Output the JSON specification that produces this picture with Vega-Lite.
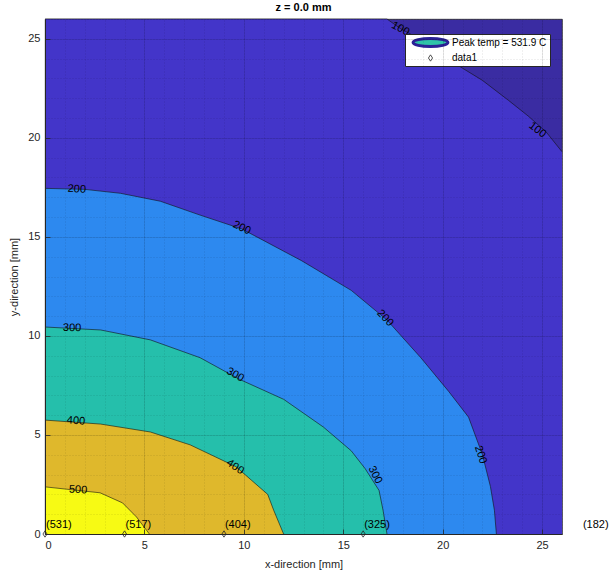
{
  "$schema": "https://vega.github.io/schema/vega-lite/v6.json",
  "width": 517,
  "height": 515,
  "autosize": {"type": "none"},
  "padding": {"left": 45, "top": 19, "right": 49, "bottom": 40},
  "title": {"text": "z = 0.0 mm", "fontSize": 11, "fontWeight": "bold", "font": "Liberation Sans", "color": "#000000", "offset": 5},
  "config": {
    "view": {"fill": "#3a2ca2", "stroke": "#262626", "strokeWidth": 0.8},
    "axis": {"labelFont": "Liberation Sans", "titleFont": "Liberation Sans", "labelFontSize": 11, "titleFontSize": 11, "titleFontWeight": "normal", "labelColor": "#262626", "titleColor": "#262626", "domainColor": "#262626", "tickColor": "#262626"}
  },
  "datasets": {
    "contours": [
      {"level": 100, "x": 0, "y": 26}, {"level": 100, "x": 17.2, "y": 26}, {"level": 100, "x": 17.9, "y": 25.5}, {"level": 100, "x": 19.0, "y": 24.9}, {"level": 100, "x": 20.7, "y": 23.7}, {"level": 100, "x": 22.0, "y": 22.9}, {"level": 100, "x": 23.3, "y": 21.9}, {"level": 100, "x": 24.3, "y": 21.1}, {"level": 100, "x": 25.2, "y": 20.3}, {"level": 100, "x": 26, "y": 19.3},
      {"level": 200, "x": 0, "y": 17.45}, {"level": 200, "x": 2, "y": 17.4}, {"level": 200, "x": 3.8, "y": 17.2}, {"level": 200, "x": 5.8, "y": 16.8}, {"level": 200, "x": 7.8, "y": 16.1}, {"level": 200, "x": 9.9, "y": 15.4}, {"level": 200, "x": 12.9, "y": 13.8}, {"level": 200, "x": 15.4, "y": 12.3}, {"level": 200, "x": 17.2, "y": 10.8}, {"level": 200, "x": 18.9, "y": 8.9}, {"level": 200, "x": 20.3, "y": 7.2}, {"level": 200, "x": 21.3, "y": 5.9}, {"level": 200, "x": 22.0, "y": 4.0}, {"level": 200, "x": 22.4, "y": 2.4}, {"level": 200, "x": 22.6, "y": 1.2}, {"level": 200, "x": 22.7, "y": 0},
      {"level": 300, "x": 0, "y": 10.45}, {"level": 300, "x": 2.8, "y": 10.3}, {"level": 300, "x": 5.3, "y": 9.8}, {"level": 300, "x": 7.8, "y": 8.9}, {"level": 300, "x": 9.8, "y": 7.8}, {"level": 300, "x": 12.0, "y": 6.8}, {"level": 300, "x": 14.0, "y": 5.4}, {"level": 300, "x": 15.4, "y": 4.2}, {"level": 300, "x": 16.1, "y": 3.3}, {"level": 300, "x": 16.8, "y": 2.2}, {"level": 300, "x": 17.0, "y": 1.2}, {"level": 300, "x": 17.2, "y": 0},
      {"level": 400, "x": 0, "y": 5.75}, {"level": 400, "x": 2.8, "y": 5.55}, {"level": 400, "x": 5.3, "y": 5.15}, {"level": 400, "x": 7.3, "y": 4.5}, {"level": 400, "x": 9.6, "y": 3.4}, {"level": 400, "x": 10.4, "y": 2.7}, {"level": 400, "x": 11.2, "y": 2.0}, {"level": 400, "x": 11.5, "y": 1.2}, {"level": 400, "x": 12.0, "y": 0},
      {"level": 500, "x": 0, "y": 2.38}, {"level": 500, "x": 2.77, "y": 2.08}, {"level": 500, "x": 3.9, "y": 1.57}, {"level": 500, "x": 4.6, "y": 0.86}, {"level": 500, "x": 5.25, "y": 0}
    ],
    "clabels": [
      {"text": "100", "x": 17.87, "y": 25.5, "angle": 28},
      {"text": "100", "x": 24.76, "y": 20.4, "angle": 38},
      {"text": "200", "x": 1.6, "y": 17.4, "angle": 3},
      {"text": "200", "x": 9.9, "y": 15.45, "angle": 25},
      {"text": "200", "x": 17.1, "y": 10.9, "angle": 47},
      {"text": "200", "x": 21.9, "y": 4.0, "angle": 72},
      {"text": "300", "x": 1.36, "y": 10.4, "angle": 2},
      {"text": "300", "x": 9.56, "y": 8.03, "angle": 30},
      {"text": "300", "x": 16.6, "y": 2.98, "angle": 62},
      {"text": "400", "x": 1.56, "y": 5.7, "angle": 5},
      {"text": "400", "x": 9.56, "y": 3.38, "angle": 35},
      {"text": "500", "x": 1.66, "y": 2.22, "angle": 3}
    ],
    "probes": [
      {"x": 0, "y": 0, "label": "(531)", "series": "data1"},
      {"x": 4, "y": 0, "label": "(517)", "series": "data1"},
      {"x": 9, "y": 0, "label": "(404)", "series": "data1"},
      {"x": 16, "y": 0, "label": "(325)", "series": "data1"},
      {"x": 27, "y": 0, "label": "(182)", "series": "data1"}
    ]
  },
  "layer": [
    {
      "data": {"name": "contours"},
      "transform": [{"filter": "datum.level == 100"}],
      "mark": {"type": "area", "fill": "#4335c9", "opacity": 1},
      "encoding": {
        "x": {"field": "x", "type": "quantitative", "scale": {"domain": [0, 26], "nice": false, "zero": false},
              "axis": {"values": [0, 5, 10, 15, 20, 25], "title": "x-direction [mm]", "grid": true, "gridColor": "#000000", "gridOpacity": 0.15, "gridWidth": 0.6, "ticks": true, "tickSize": -5, "tickWidth": 0.8, "labelPadding": 10, "titlePadding": 8, "zindex": 1}},
        "y": {"field": "y", "type": "quantitative", "stack": null, "scale": {"domain": [0, 26], "nice": false, "zero": false},
              "axis": {"values": [0, 5, 10, 15, 20, 25], "title": "y-direction [mm]", "grid": true, "gridColor": "#000000", "gridOpacity": 0.15, "gridWidth": 0.6, "ticks": true, "tickSize": -5, "tickWidth": 0.8, "labelPadding": 10, "titlePadding": 8, "zindex": 1}}
      }
    },
    {
      "data": {"name": "contours"},
      "transform": [{"filter": "datum.level == 200"}],
      "mark": {"type": "area", "fill": "#2d89ef", "opacity": 1},
      "encoding": {
        "x": {"field": "x", "type": "quantitative", "axis": null},
        "y": {"field": "y", "type": "quantitative", "stack": null, "axis": null}
      }
    },
    {
      "data": {"name": "contours"},
      "transform": [{"filter": "datum.level == 300"}],
      "mark": {"type": "area", "fill": "#25bfab", "opacity": 1},
      "encoding": {
        "x": {"field": "x", "type": "quantitative", "axis": null},
        "y": {"field": "y", "type": "quantitative", "stack": null, "axis": null}
      }
    },
    {
      "data": {"name": "contours"},
      "transform": [{"filter": "datum.level == 400"}],
      "mark": {"type": "area", "fill": "#dfb82c", "opacity": 1},
      "encoding": {
        "x": {"field": "x", "type": "quantitative", "axis": null},
        "y": {"field": "y", "type": "quantitative", "stack": null, "axis": null}
      }
    },
    {
      "data": {"name": "contours"},
      "transform": [{"filter": "datum.level == 500"}],
      "mark": {"type": "area", "fill": "#f7fa14", "opacity": 1},
      "encoding": {
        "x": {"field": "x", "type": "quantitative", "axis": null},
        "y": {"field": "y", "type": "quantitative", "stack": null, "axis": null}
      }
    },
    {
      "data": {"name": "contours"},
      "mark": {"type": "line", "stroke": "#111111", "strokeWidth": 0.6, "interpolate": "linear"},
      "encoding": {
        "x": {"field": "x", "type": "quantitative", "axis": {"orient": "top", "values": [0,1,2,3,4,5,6,7,8,9,10,11,12,13,14,15,16,17,18,19,20,21,22,23,24,25,26], "labels": false, "ticks": false, "domain": false, "title": null, "grid": true, "gridDash": [1, 2], "gridColor": "#000000", "gridOpacity": 0.2, "gridWidth": 0.6, "zindex": 1}},
        "y": {"field": "y", "type": "quantitative", "axis": {"orient": "right", "values": [0,1,2,3,4,5,6,7,8,9,10,11,12,13,14,15,16,17,18,19,20,21,22,23,24,25,26], "labels": false, "ticks": false, "domain": false, "title": null, "grid": true, "gridDash": [1, 2], "gridColor": "#000000", "gridOpacity": 0.2, "gridWidth": 0.6, "zindex": 1}},
        "detail": {"field": "level", "type": "ordinal"}
      }
    },
    {
      "data": {"name": "clabels"},
      "mark": {"type": "text", "font": "Liberation Sans", "fontSize": 11, "color": "#000000", "align": "center", "baseline": "middle"},
      "encoding": {
        "x": {"field": "x", "type": "quantitative", "axis": null},
        "y": {"field": "y", "type": "quantitative", "axis": null},
        "text": {"field": "text"},
        "angle": {"field": "angle", "type": "quantitative", "scale": null}
      }
    },
    {
      "data": {"name": "probes"},
      "transform": [{"filter": "datum.x <= 26"}],
      "mark": {"type": "point", "clip": false, "opacity": 1},
      "encoding": {
        "x": {"field": "x", "type": "quantitative", "axis": null},
        "y": {"field": "y", "type": "quantitative", "axis": null},
        "shape": {"field": "series", "type": "nominal", "scale": {"domain": ["Peak temp = 531.9 C", "data1"], "range": ["M-4.5,0A4.5,1.05 0 1,0 4.5,0A4.5,1.05 0 1,0 -4.5,0Z", "M0,-1L0.65,0L0,1L-0.65,0Z"]},
                  "legend": {"orient": "none", "legendX": 360, "legendY": 15, "title": null, "fillColor": "#ffffff", "strokeColor": "#262626", "padding": 3, "labelFont": "Liberation Sans", "labelFontSize": 10, "labelColor": "#000000", "rowPadding": 0, "labelOffset": 16, "symbolOffset": 17, "symbolOpacity": 1}},
        "fill": {"field": "series", "type": "nominal", "scale": {"domain": ["Peak temp = 531.9 C", "data1"], "range": ["#2fc3a8", "transparent"]}},
        "stroke": {"field": "series", "type": "nominal", "scale": {"domain": ["Peak temp = 531.9 C", "data1"], "range": ["#2b2196", "#262626"]}},
        "size": {"field": "series", "type": "nominal", "scale": {"domain": ["Peak temp = 531.9 C", "data1"], "range": [60, 40]}},
        "strokeWidth": {"field": "series", "type": "nominal", "scale": {"domain": ["Peak temp = 531.9 C", "data1"], "range": [3, 0.8]}}
      }
    },
    {
      "data": {"name": "probes"},
      "mark": {"type": "text", "font": "Liberation Sans", "fontSize": 11, "color": "#000000", "align": "left", "baseline": "middle", "dx": 1, "dy": -9, "clip": false},
      "encoding": {
        "x": {"field": "x", "type": "quantitative", "axis": null},
        "y": {"field": "y", "type": "quantitative", "axis": null},
        "text": {"field": "label"}
      }
    }
  ],
  "resolve": {"axis": {"x": "independent", "y": "independent"}}
}
